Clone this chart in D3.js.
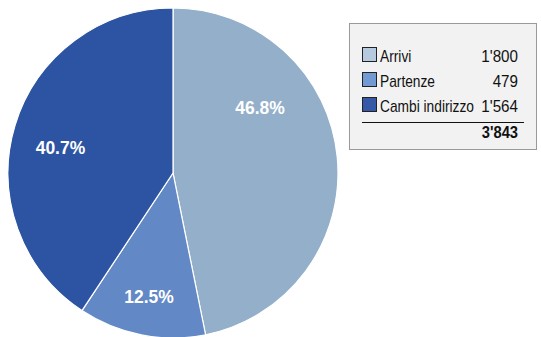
<!DOCTYPE html>
<html>
<head>
<meta charset="utf-8">
<script src="https://cdn.jsdelivr.net/npm/d3@7"></script>
<style>
  html, body { margin: 0; padding: 0; background: #fff; }
  svg { display: block; font-family: "Liberation Sans", Arial, sans-serif; }
</style>
</head>
<body>
<svg id="chart" width="541" height="337"></svg>
<script>
// Movimenti della popolazione
const categories = ["Arrivi", "Partenze", "Cambi indirizzo"];
const values = [1800, 479, 1564];
const valueLabels = ["1'800", "479", "1'564"];
const totalLabel = "3'843";

// slice fills and legend swatch fills
const sliceColors = ["#93afc9", "#6288c5", "#2c54a2"];
const swatchColors = ["#b5cadf", "#729bd4", "#3558a7"];

// label anchor in polar form: angle (degrees from 12 o'clock, clockwise) and fraction of radius
const labelAnchors = [
  { angle: 53, r: 0.66 },
  { angle: 191, r: 0.76 },
  { angle: 283, r: 0.70 }
];

const svg = d3.select("#chart");
const cx = 173, cy = 173, radius = 165;
const narrow = 0.86; // horizontal squeeze for a condensed look

const total = d3.sum(values);
const pie = d3.pie().sort(null).value(d => d.value);
const arc = d3.arc().innerRadius(0).outerRadius(radius);

const data = categories.map((c, i) => ({ name: c, value: values[i], i }));
const arcs = pie(data);

const g = svg.append("g").attr("transform", `translate(${cx},${cy})`);

g.selectAll("path.slice")
  .data(arcs)
  .join("path")
  .attr("class", "slice")
  .attr("d", arc)
  .attr("fill", d => sliceColors[d.data.i])
  .attr("stroke", "#ffffff")
  .attr("stroke-width", 1.2);

const fmtPct = v => (v * 100).toFixed(1) + "%";

function anchorXY(i) {
  const a = labelAnchors[i];
  const t = a.angle * Math.PI / 180;
  return [Math.sin(t) * a.r * radius, -Math.cos(t) * a.r * radius];
}

g.selectAll("text.pct")
  .data(arcs)
  .join("text")
  .attr("class", "pct")
  .attr("transform", d => {
    const [x, y] = anchorXY(d.data.i);
    return `translate(${x},${y}) scale(0.92,1)`;
  })
  .attr("dy", "0.36em")
  .attr("text-anchor", "middle")
  .attr("fill", "#ffffff")
  .attr("font-weight", "bold")
  .attr("font-size", 19)
  .text(d => fmtPct(d.data.value / total));

// Legend
const lg = svg.append("g");
lg.append("rect")
  .attr("x", 349.5).attr("y", 23.5)
  .attr("width", 187).attr("height", 126)
  .attr("fill", "#f2f2f2")
  .attr("stroke", "#9a9a9a")
  .attr("stroke-width", 1);

const rowY = d3.scalePoint().domain(categories).range([62, 112]);

const rows = lg.selectAll("g.row")
  .data(data)
  .join("g")
  .attr("class", "row")
  .attr("transform", d => `translate(0,${rowY(d.name)})`);

rows.append("rect")
  .attr("x", 362.5).attr("y", -14.5)
  .attr("width", 14).attr("height", 14)
  .attr("fill", d => swatchColors[d.i])
  .attr("stroke", "#222")
  .attr("stroke-width", 1);

rows.append("text")
  .attr("transform", `translate(380,0) scale(${narrow},1)`)
  .attr("font-size", 16)
  .attr("fill", "#111")
  .text(d => d.name);

rows.append("text")
  .attr("transform", `translate(518,0) scale(0.95,1)`)
  .attr("text-anchor", "end")
  .attr("font-size", 16)
  .attr("fill", "#111")
  .text(d => valueLabels[d.i]);

lg.append("line")
  .attr("x1", 362).attr("x2", 524)
  .attr("y1", 122.5).attr("y2", 122.5)
  .attr("stroke", "#111").attr("stroke-width", 1);

lg.append("text")
  .attr("transform", `translate(518,138) scale(0.92,1)`)
  .attr("text-anchor", "end")
  .attr("font-size", 16)
  .attr("font-weight", "bold")
  .attr("fill", "#111")
  .text(totalLabel);
</script>
</body>
</html>
